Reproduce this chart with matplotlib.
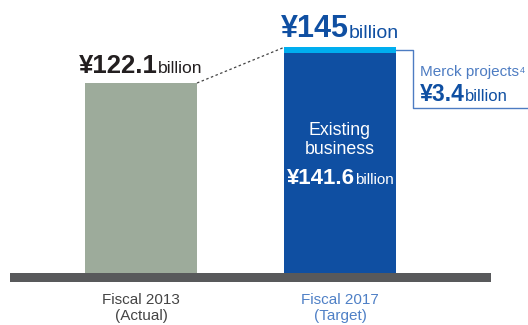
"""
Sales bridge: fiscal 2013 actual vs fiscal 2017 target.
"""

import matplotlib
matplotlib.use("Agg")
import matplotlib.pyplot as plt
from matplotlib.patches import Rectangle

plt.rcParams["font.family"] = ["Liberation Sans", "DejaVu Sans"]

# values in ¥ billion
categories = ["Fiscal 2013\n(Actual)", "Fiscal 2017\n(Target)"]
actual_2013 = 122.1
existing_2017 = 141.6
merck_2017 = 3.4
target_2017 = 145

GRAY = "#9dab9b"
NAVY = "#0f4fa2"
SKY = "#00aeef"
LINK = "#4d7cc2"
BASE = "#58595b"
INK = "#231f20"

W, H = 528, 325
fig = plt.figure(figsize=(W / 100, H / 100), dpi=100)
ax = fig.add_axes([0, 0, 1, 1])
ax.set_axis_off()

# pixel geometry -> data units
px_per_unit = 1.556          # vertical scale, px per ¥ billion
base_px = 273                # baseline (y = 0) measured from the top
x0_px, step_px = 141, 199    # first bar centre and bar spacing
ax.set_ylim(-(H - base_px) / px_per_unit, base_px / px_per_unit)
ax.set_xlim(-x0_px / step_px, (W - x0_px) / step_px)
bar_w = 112 / step_px


def y_at(px_from_top):
    return (base_px - px_from_top) / px_per_unit


xs = range(len(categories))
ax.bar(0, actual_2013, width=bar_w, color=GRAY, zorder=2)
ax.bar(1, existing_2017, width=bar_w, color=NAVY, zorder=2)
ax.bar(1, merck_2017, bottom=existing_2017, width=bar_w, color=SKY, zorder=2)

# thick baseline under both bars
bx0 = (10 - x0_px) / step_px
bx1 = (491 - x0_px) / step_px
ax.add_patch(Rectangle((bx0, -9 / px_per_unit), bx1 - bx0, 9 / px_per_unit,
                       color=BASE, lw=0, zorder=3))

# dotted connector between bar tops
ax.plot([bar_w / 2, 1 - bar_w / 2], [actual_2013, target_2017],
        ls=(0, (2, 2)), lw=0.9, color="#444444", zorder=1)

# bracket from the Merck slice out to its label
merck_mid = existing_2017 + merck_2017 / 2
bend_x = (413 - x0_px) / step_px
low_y = y_at(108)
ax.plot([1 + bar_w / 2 - 0.02, bend_x, bend_x, 2.2],
        [merck_mid, merck_mid, low_y, low_y], color=LINK, lw=1.0, zorder=1)

texts = []


def money_label(x, y, head, tail, size_head, size_tail, color, ha="center"):
    """Bold figure followed by a smaller unit on the same baseline."""
    t1 = ax.text(x, y, head, fontsize=size_head, fontweight="bold", color=color,
                 ha="left", va="baseline")
    t2 = ax.annotate(tail, xy=(1, 0), xycoords=t1,
                     xytext=(0, 0.212 * size_head), textcoords="offset points",
                     fontsize=size_tail, color=color, ha="left", va="baseline")
    texts.append((t1, t2, x, y, ha))
    return t1, t2


gap = 10 / px_per_unit
money_label(0, actual_2013 + gap, "¥122.1", "billion", 18.5, 12.6, INK)
money_label(1, target_2017 + gap, "¥145", "billion", 22, 14, NAVY)
money_label(1, y_at(184), "¥141.6", "billion", 16, 11, "white")

mx = (420 - x0_px) / step_px
money_label(mx, y_at(101), "¥3.4", "billion", 16.5, 12, NAVY, ha="left")
t_merck = ax.text(mx, y_at(76), "Merck projects", fontsize=11,
                  color=LINK, ha="left", va="baseline")
ax.annotate("4", xy=(1, 1), xycoords=t_merck, xytext=(0.3, -0.5),
            textcoords="offset points", fontsize=6.5, color=LINK, ha="left", va="top")

ax.text(1, y_at(140), "Existing\nbusiness", fontsize=12.8,
        color="white", ha="center", va="center", linespacing=1.2)

# category labels below the baseline
label_colors = ["#444444", "#4f80c6"]
for x, label, c in zip(xs, categories, label_colors):
    ax.text(x, y_at(308), label, fontsize=11, color=c,
            ha="center", va="center", linespacing=1.25)

# centre the two-part labels now that their widths are known
fig.canvas.draw()
renderer = fig.canvas.get_renderer()
for t1, t2, x, y, ha in texts:
    if ha != "center":
        continue
    w = t1.get_window_extent(renderer).width + t2.get_window_extent(renderer).width
    px, py = ax.transData.transform((x, y))
    nx, _ = ax.transData.inverted().transform((px - w / 2, py))
    t1.set_x(nx)

fig.savefig("out.png", dpi=100)
